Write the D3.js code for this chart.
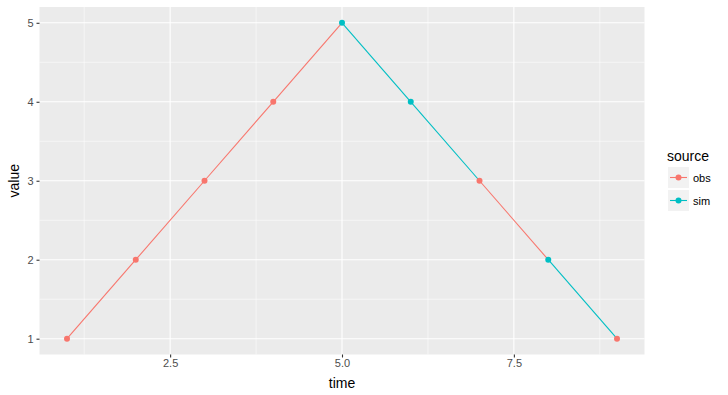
<!DOCTYPE html>
<html><head><meta charset="utf-8">
<script src="https://cdn.jsdelivr.net/npm/d3@7"></script>
<style>body{margin:0;background:#fff;}svg{display:block;font-family:"Liberation Sans",Arial,sans-serif;}</style>
</head><body><svg id="c" width="728" height="395"></svg>
<script>
const times = [1,2,3,4,5,6,7,8,9];
const values = [1,2,3,4,5,4,3,2,1];
const sources = ["obs","obs","obs","obs","sim","sim","obs","sim","obs"];
const sourceLevels = ["obs","sim"];
const sourceColors = ["#F8766D","#00BFC4"];
const xTicks = [2.5,5.0,7.5];
const xMinor = [1.25,3.75,6.25,8.75];
const yTicks = [1,2,3,4,5];
const yMinor = [1.5,2.5,3.5,4.5];

const svg = d3.select("#c");
const L=39.5,R=644.5,T=7,B=354.5;
const x = d3.scaleLinear().domain([0.6,9.4]).range([L,R]);
const y = d3.scaleLinear().domain([0.8,5.2]).range([B,T]);
const col = d3.scaleOrdinal().domain(sourceLevels).range(sourceColors);

svg.append("rect").attr("x",L).attr("y",T).attr("width",R-L).attr("height",B-T).attr("fill","#EBEBEB");
const g = svg.append("g");
xMinor.forEach(v=>g.append("line").attr("x1",x(v)).attr("x2",x(v)).attr("y1",T).attr("y2",B).attr("stroke","#fff").attr("stroke-width",0.55));
yMinor.forEach(v=>g.append("line").attr("y1",y(v)).attr("y2",y(v)).attr("x1",L).attr("x2",R).attr("stroke","#fff").attr("stroke-width",0.55));
xTicks.forEach(v=>g.append("line").attr("x1",x(v)).attr("x2",x(v)).attr("y1",T).attr("y2",B).attr("stroke","#fff").attr("stroke-width",1.1));
yTicks.forEach(v=>g.append("line").attr("y1",y(v)).attr("y2",y(v)).attr("x1",L).attr("x2",R).attr("stroke","#fff").attr("stroke-width",1.1));

const data = times.map((t,i)=>({t,v:values[i],s:sources[i]}));
for(let i=0;i<data.length-1;i++){
  g.append("line").attr("x1",x(data[i].t)).attr("y1",y(data[i].v)).attr("x2",x(data[i+1].t)).attr("y2",y(data[i+1].v))
   .attr("stroke",col(data[i].s)).attr("stroke-width",1.1);
}
g.selectAll("circle.p").data(data).enter().append("circle").attr("cx",d=>x(d.t)).attr("cy",d=>y(d.v)).attr("r",3).attr("fill",d=>col(d.s));

// axes
const xa = svg.append("g").attr("transform",`translate(0,${B})`).call(d3.axisBottom(x).tickValues(xTicks).tickFormat(d3.format(".1f")).tickSize(3).tickPadding(2));
const ya = svg.append("g").attr("transform",`translate(${L},0)`).call(d3.axisLeft(y).tickValues(yTicks).tickFormat(d3.format("d")).tickSize(3).tickPadding(3));
[xa,ya].forEach(a=>{a.select(".domain").remove();a.selectAll(".tick line").attr("stroke","#333").attr("stroke-width",1.1);a.selectAll("text").attr("fill","#4D4D4D").attr("font-size","11px").attr("font-family","Liberation Sans, Arial, sans-serif");});

svg.append("text").attr("x",(L+R)/2).attr("y",388).attr("text-anchor","middle").attr("font-size","14px").attr("fill","#000").text("time");
svg.append("text").attr("transform",`translate(19,${(T+B)/2}) rotate(-90)`).attr("text-anchor","middle").attr("font-size","14px").attr("fill","#000").text("value");

// legend
const lg = svg.append("g");
lg.append("text").attr("x",667).attr("y",161).attr("font-size","14px").attr("fill","#000").text("source");
sourceLevels.forEach((s,i)=>{
  const yy = 167 + i*23;
  lg.append("rect").attr("x",668).attr("y",yy).attr("width",21).attr("height",21).attr("fill","#F2F2F2");
  lg.append("line").attr("x1",670).attr("x2",687).attr("y1",yy+10.5).attr("y2",yy+10.5).attr("stroke",col(s)).attr("stroke-width",1.1);
  lg.append("circle").attr("cx",678.5).attr("cy",yy+10.5).attr("r",3).attr("fill",col(s));
  lg.append("text").attr("x",693).attr("y",yy+14.5).attr("font-size","11px").attr("fill","#000").text(s);
});
</script></body></html>
